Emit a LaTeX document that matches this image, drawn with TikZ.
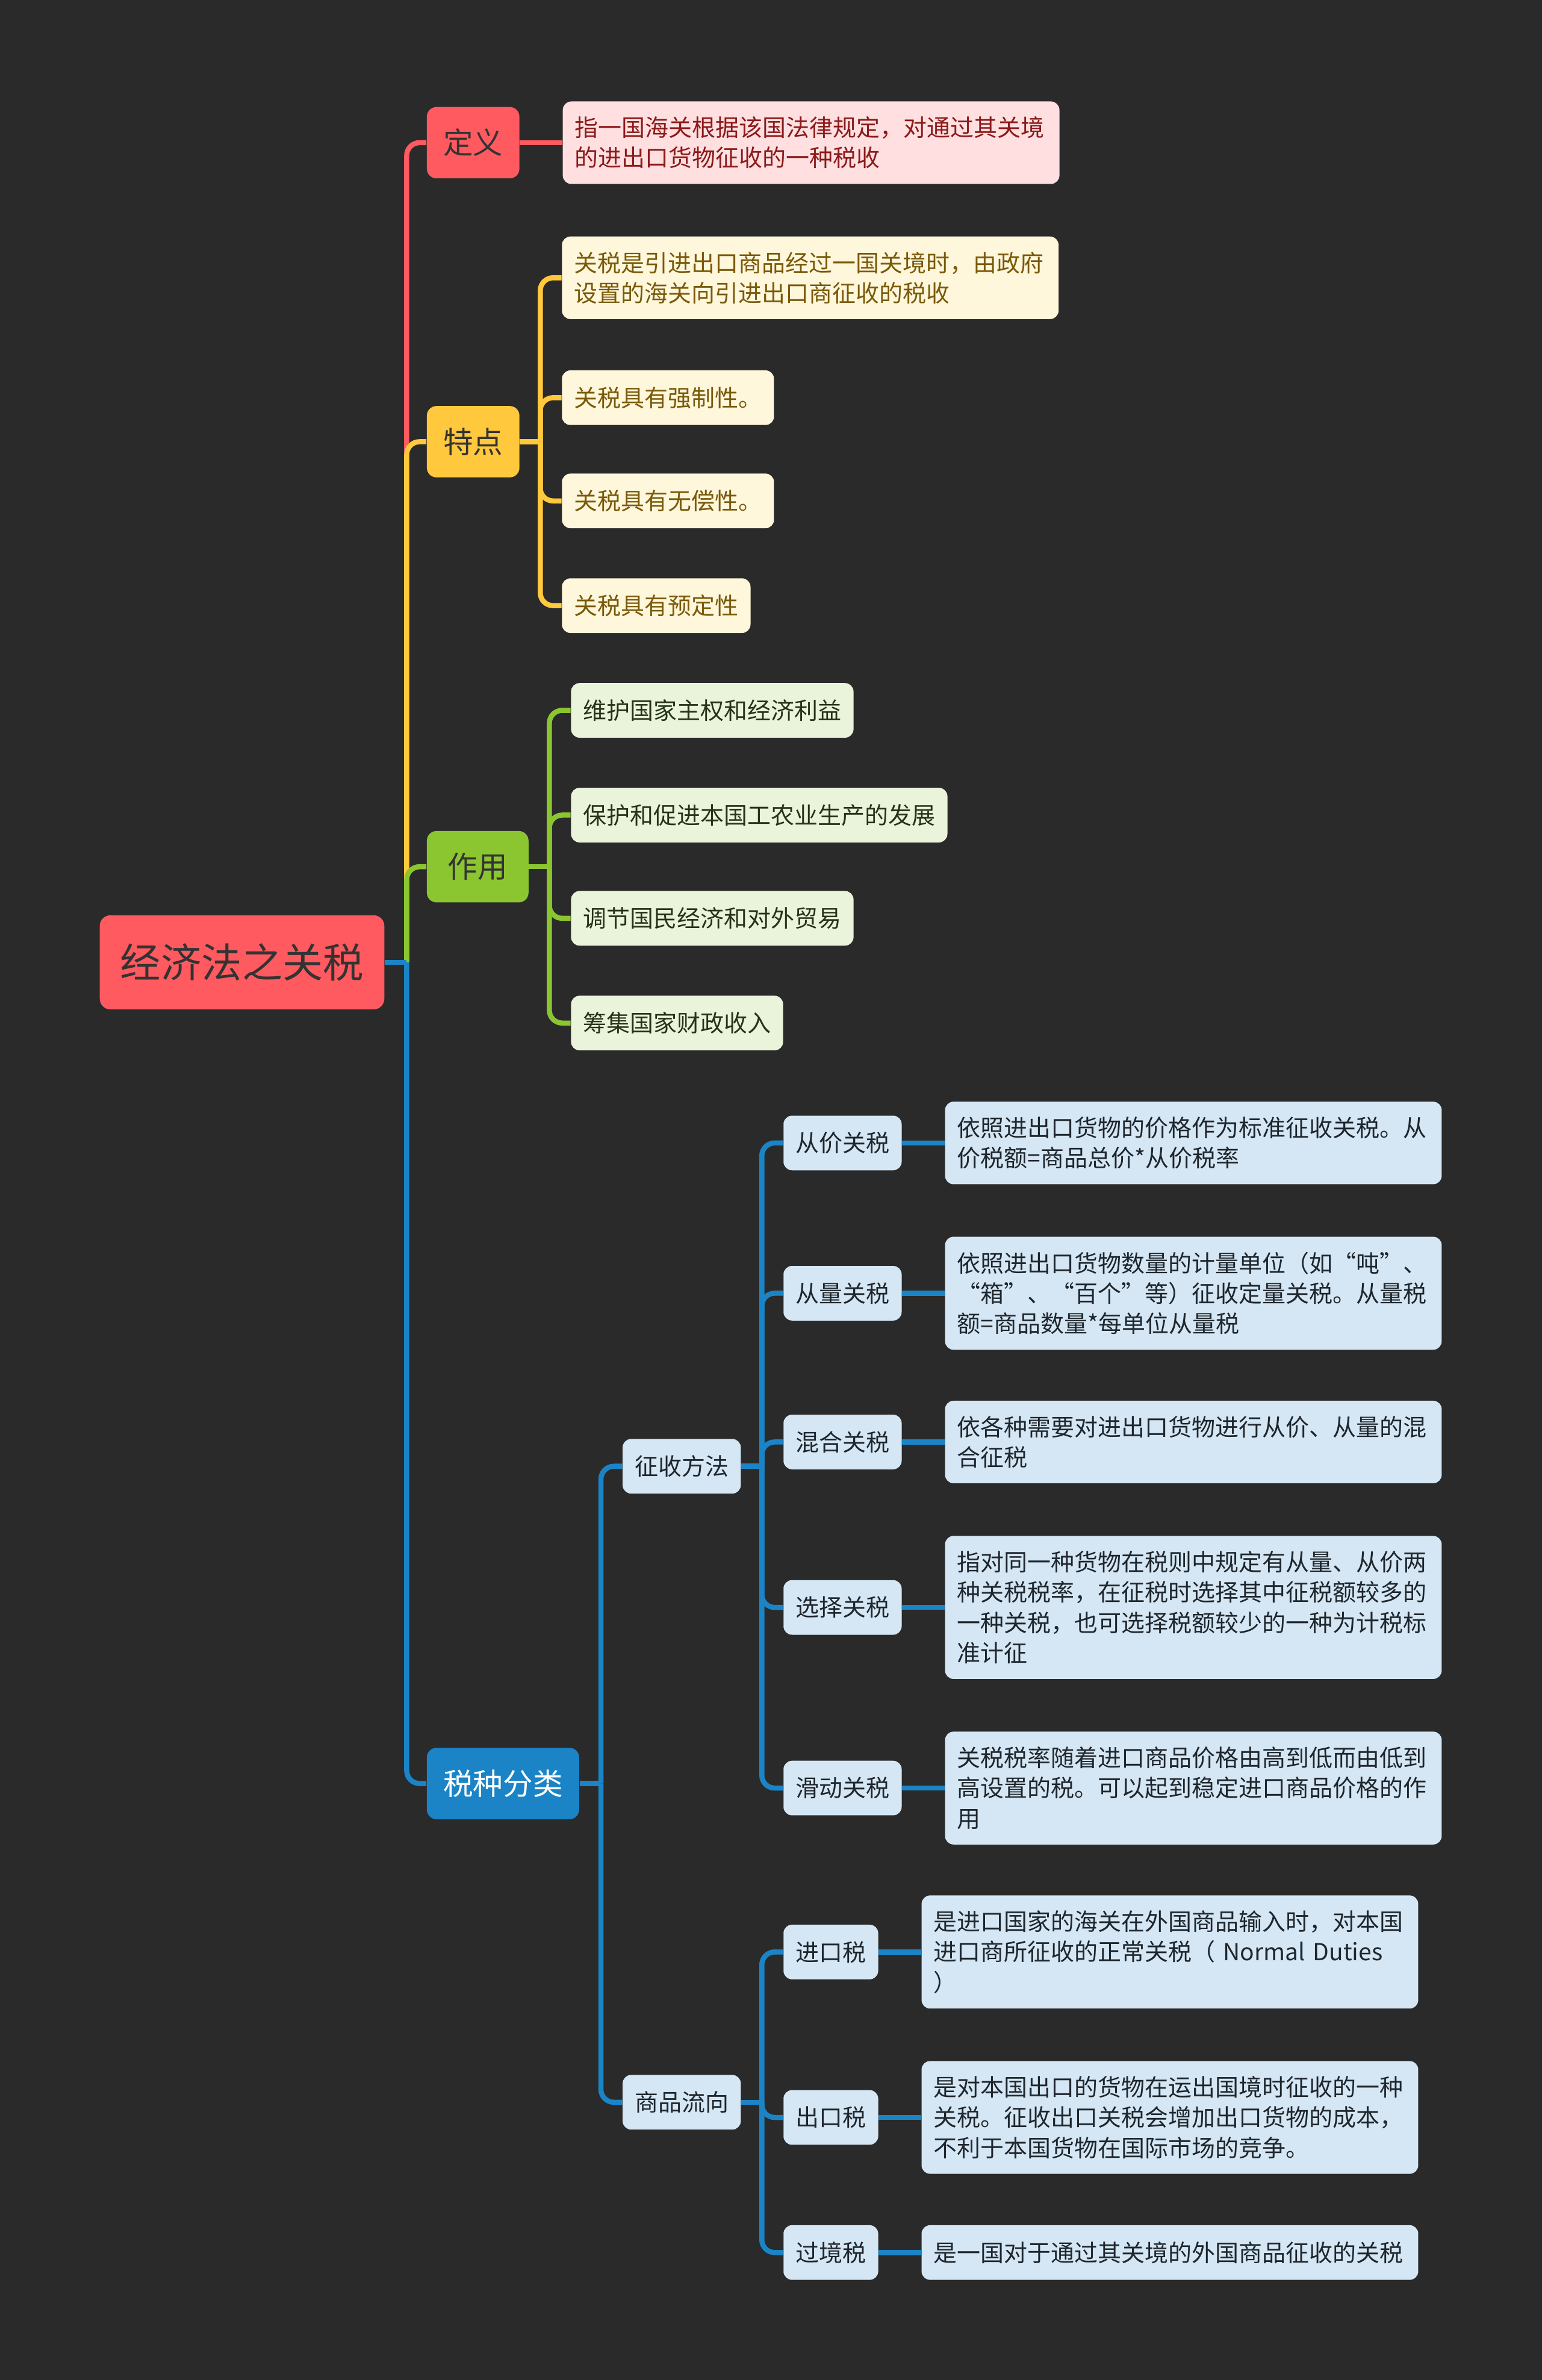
\documentclass[tikz,border=0pt]{standalone}
\usepackage{fontspec}
\setmainfont{Noto Sans CJK SC}
\usetikzlibrary{positioning}
\definecolor{bgDark}{HTML}{2A2A2A}
\definecolor{darkText}{HTML}{333333}
\definecolor{defRed}{HTML}{FF5A5F}
\definecolor{defPink}{HTML}{FFDFE0}
\definecolor{defText}{HTML}{8B1A1A}
\definecolor{feaYellow}{HTML}{FFC83D}
\definecolor{feaCream}{HTML}{FFF7DB}
\definecolor{feaText}{HTML}{7A5A0A}
\definecolor{useGreen}{HTML}{8BC530}
\definecolor{useLight}{HTML}{EAF4DA}
\definecolor{useText}{HTML}{263318}
\definecolor{taxBlue}{HTML}{1A84C7}
\definecolor{taxLight}{HTML}{D5E7F4}
\definecolor{taxText}{HTML}{1F262D}

\begin{document}
\begin{tikzpicture}[
    x=0.025cm, y=-0.025cm,
    rootbox/.style={rounded corners=5pt, fill=defRed, text=darkText, font=\fontsize{19}{23}\selectfont, inner xsep=0.34cm, minimum height=1.55cm},
    topicbox/.style={rounded corners=4.5pt, font=\fontsize{14}{17}\selectfont, inner xsep=0.27cm, minimum height=1.175cm, anchor=west},
    leafbox/.style={rounded corners=4pt, font=\fontsize{11}{14.2}\selectfont, inner xsep=0.2cm, inner ysep=0.25cm, minimum height=0.9cm, anchor=west, align=left},
    notebox/.style={leafbox, text width=7.78cm},
    br/.style={line width=2.4pt},
    bar/.style={line width=2.4pt, rounded corners=6pt},
]
\fill[bgDark] (0,0) rectangle (1016,1568);
\useasboundingbox (0,0) rectangle (1016,1568);

% root and main topics
\node[rootbox] (jjf) at (159.5,634) {经济法之关税};
\node[topicbox, fill=defRed, text=darkText] (dingyi) at (281,94) {定义};
\node[topicbox, fill=feaYellow, text=darkText] (tedian) at (281,291) {特点};
\node[topicbox, fill=useGreen, text=darkText, inner xsep=0.345cm] (zuoyong) at (281,571) {作用};
\node[topicbox, fill=taxBlue, text=white] (shuizhong) at (281,1175) {税种分类};

% 定义
\node[notebox, fill=defPink, text=defText, right=0.7cm of dingyi] (dy1) {指一国海关根据该国法律规定，对通过其关境\\的进出口货物征收的一种税收};

% 特点
\node[notebox, fill=feaCream, text=feaText] (td1) at (370,183) {关税是引进出口商品经过一国关境时，由政府\\设置的海关向引进出口商征收的税收};
\node[leafbox, fill=feaCream, text=feaText] (td2) at (370,262) {关税具有强制性。};
\node[leafbox, fill=feaCream, text=feaText] (td3) at (370,330) {关税具有无偿性。};
\node[leafbox, fill=feaCream, text=feaText] (td4) at (370,399) {关税具有预定性};

% 作用
\node[leafbox, fill=useLight, text=useText] (zy1) at (376,468) {维护国家主权和经济利益};
\node[leafbox, fill=useLight, text=useText] (zy2) at (376,537) {保护和促进本国工农业生产的发展};
\node[leafbox, fill=useLight, text=useText] (zy3) at (376,605) {调节国民经济和对外贸易};
\node[leafbox, fill=useLight, text=useText] (zy4) at (376,674) {筹集国家财政收入};

% 税种分类
\node[leafbox, fill=taxLight, text=taxText] (zsff) at (410,966) {征收方法};
\node[leafbox, fill=taxLight, text=taxText] (spl) at (410,1385) {商品流向};

\node[leafbox, fill=taxLight, text=taxText] (cj1) at (516,753) {从价关税};
\node[leafbox, fill=taxLight, text=taxText] (cj2) at (516,852) {从量关税};
\node[leafbox, fill=taxLight, text=taxText] (cj3) at (516,950) {混合关税};
\node[leafbox, fill=taxLight, text=taxText] (cj4) at (516,1059) {选择关税};
\node[leafbox, fill=taxLight, text=taxText] (cj5) at (516,1178) {滑动关税};
\node[notebox, fill=taxLight, text=taxText, right=0.7cm of cj1] (cjn1) {依照进出口货物的价格作为标准征收关税。从\\价税额=商品总价*从价税率};
\node[notebox, fill=taxLight, text=taxText, right=0.7cm of cj2] (cjn2) {依照进出口货物数量的计量单位（如“吨”、\\“箱”、“百个”等）征收定量关税。从量税\\额=商品数量*每单位从量税};
\node[notebox, fill=taxLight, text=taxText, right=0.7cm of cj3] (cjn3) {依各种需要对进出口货物进行从价、从量的混\\合征税};
\node[notebox, fill=taxLight, text=taxText, right=0.7cm of cj4] (cjn4) {指对同一种货物在税则中规定有从量、从价两\\种关税税率，在征税时选择其中征税额较多的\\一种关税，也可选择税额较少的一种为计税标\\准计征};
\node[notebox, fill=taxLight, text=taxText, right=0.7cm of cj5] (cjn5) {关税税率随着进口商品价格由高到低而由低到\\高设置的税。可以起到稳定进口商品价格的作\\用};

\node[leafbox, fill=taxLight, text=taxText] (sp1) at (516,1286) {进口税};
\node[leafbox, fill=taxLight, text=taxText] (sp2) at (516,1395) {出口税};
\node[leafbox, fill=taxLight, text=taxText] (sp3) at (516,1484) {过境税};
\node[notebox, fill=taxLight, text=taxText, right=0.7cm of sp1] (spn1) {是进口国家的海关在外国商品输入时，对本国\\进口商所征收的正常关税（ Normal Duties\\）};
\node[notebox, fill=taxLight, text=taxText, right=0.7cm of sp2] (spn2) {是对本国出口的货物在运出国境时征收的一种\\关税。征收出口关税会增加出口货物的成本，\\不利于本国货物在国际市场的竞争。};
\node[notebox, fill=taxLight, text=taxText, right=0.7cm of sp3] (spn3) {是一国对于通过其关境的外国商品征收的关税};

% junctions
\coordinate (rj) at (268,634);
\coordinate (tdj) at (356,291);
\coordinate (zyj) at (362,571);
\coordinate (szj) at (396,1175);
\coordinate (zsj) at (502,966);
\coordinate (spj) at (502,1385);

% main branches
\draw[bar, defRed] (rj) |- (dingyi.west);
\draw[bar, feaYellow] (rj) |- (tedian.west);
\draw[bar, useGreen] (rj) |- (zuoyong.west);
\draw[bar, taxBlue] (rj) |- (shuizhong.west);
\draw[br, taxBlue] (jjf.east) -- (rj);

% 定义
\draw[br, defRed] (dingyi.east) -- (dy1.west);

% 特点
\draw[br, feaYellow] (tedian.east) -- (tdj);
\draw[bar, feaYellow] (tdj) |- (td1.west);
\draw[bar, feaYellow] (tdj) |- (td2.west);
\draw[bar, feaYellow] (tdj) |- (td3.west);
\draw[bar, feaYellow] (tdj) |- (td4.west);

% 作用
\draw[br, useGreen] (zuoyong.east) -- (zyj);
\draw[bar, useGreen] (zyj) |- (zy1.west);
\draw[bar, useGreen] (zyj) |- (zy2.west);
\draw[bar, useGreen] (zyj) |- (zy3.west);
\draw[bar, useGreen] (zyj) |- (zy4.west);

% 税种分类
\draw[br, taxBlue] (shuizhong.east) -- (szj);
\draw[bar, taxBlue] (szj) |- (zsff.west);
\draw[bar, taxBlue] (szj) |- (spl.west);

\draw[br, taxBlue] (zsff.east) -- (zsj);
\draw[bar, taxBlue] (zsj) |- (cj1.west);
\draw[bar, taxBlue] (zsj) |- (cj2.west);
\draw[bar, taxBlue] (zsj) |- (cj3.west);
\draw[bar, taxBlue] (zsj) |- (cj4.west);
\draw[bar, taxBlue] (zsj) |- (cj5.west);
\draw[br, taxBlue] (cj1.east) -- (cjn1.west);
\draw[br, taxBlue] (cj2.east) -- (cjn2.west);
\draw[br, taxBlue] (cj3.east) -- (cjn3.west);
\draw[br, taxBlue] (cj4.east) -- (cjn4.west);
\draw[br, taxBlue] (cj5.east) -- (cjn5.west);

\draw[br, taxBlue] (spl.east) -- (spj);
\draw[bar, taxBlue] (spj) |- (sp1.west);
\draw[bar, taxBlue] (spj) |- (sp2.west);
\draw[bar, taxBlue] (spj) |- (sp3.west);
\draw[br, taxBlue] (sp1.east) -- (spn1.west);
\draw[br, taxBlue] (sp2.east) -- (spn2.west);
\draw[br, taxBlue] (sp3.east) -- (spn3.west);
\end{tikzpicture}
\end{document}
